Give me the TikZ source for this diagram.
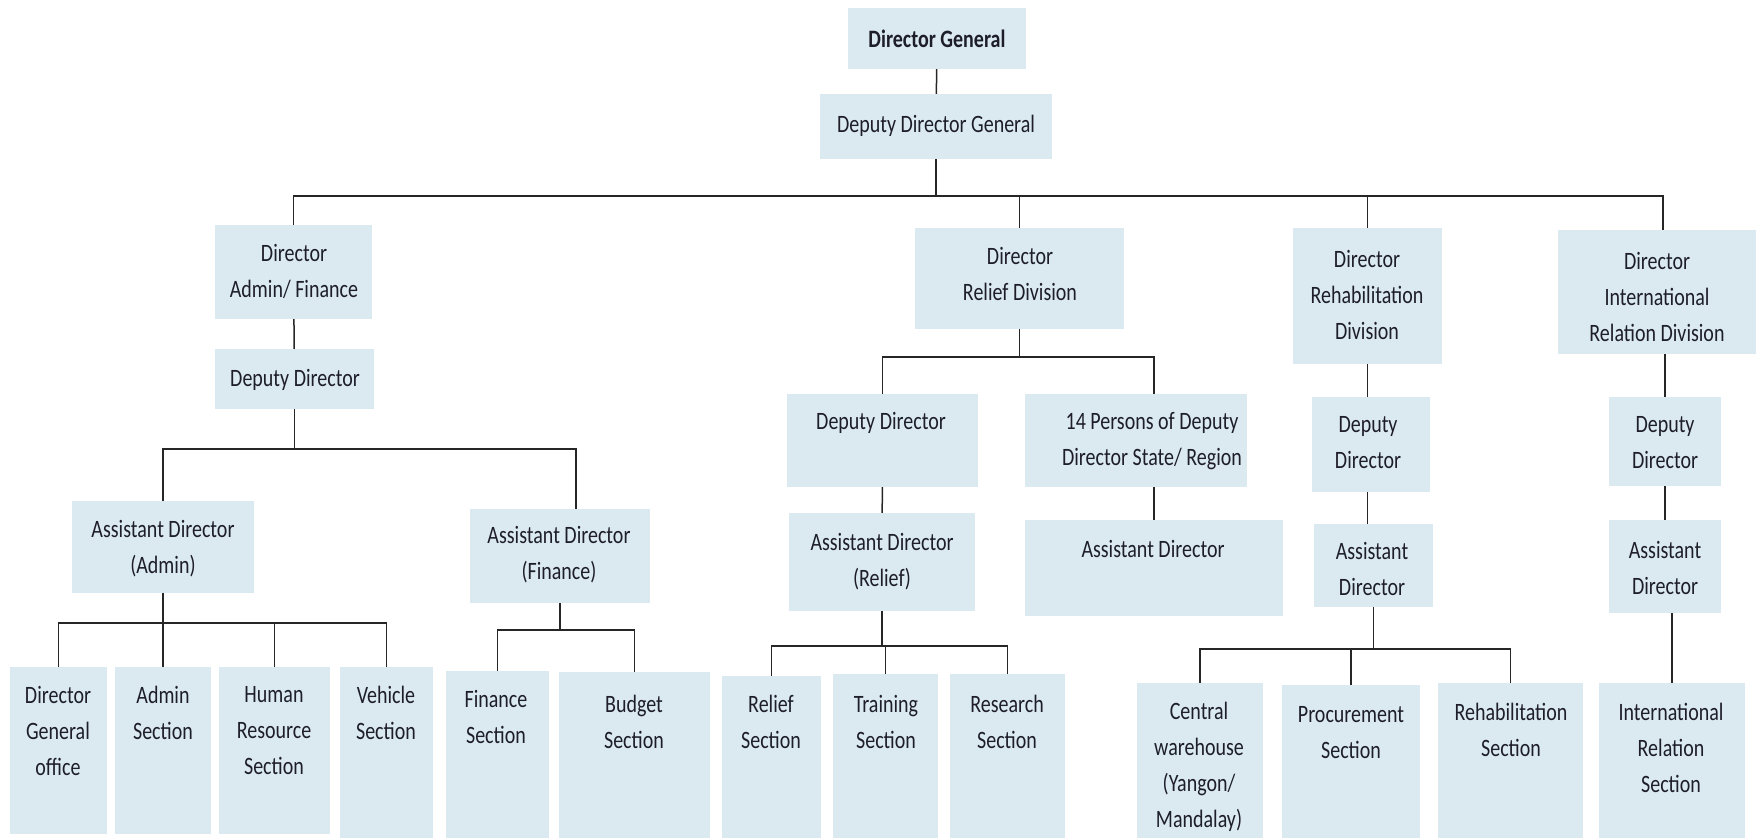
\documentclass[tikz,border=0pt]{standalone}
\usepackage{fontspec}
\setmainfont{Carlito}
\newfontfamily\orgfont[FakeStretch=0.8]{Carlito}
\usepackage{tikz}
\usetikzlibrary{calc}

\definecolor{boxblue}{RGB}{219,234,241}
\definecolor{txtgray}{RGB}{30,30,40}

\tikzset{
  unit/.style={fill=boxblue, inner sep=0pt},
  lbl/.style={align=center, inner sep=0pt, text=txtgray, font=\orgfont\fontsize{25}{36}\selectfont},
  link/.style={line width=1.5pt, black!85}
}

\begin{document}
\begin{tikzpicture}[x=1pt,y=-1pt]

\useasboundingbox (0,0) rectangle (1759,840);

	% top of the chart
	\node (DG)[unit, minimum width=178pt, minimum height=61pt] at (937,38.5) {};
	\node (DG-t)[lbl, font=\orgfont\fontsize{25}{36}\selectfont\bfseries] at (937,39) {Director General};
	\node (DDG)[unit, minimum width=232pt, minimum height=65pt] at (936,126.5) {};
	\node (DDG-t)[lbl] at (936,126) {Deputy Director General};

	% directors
	\node (DA)[unit, minimum width=157pt, minimum height=94pt] at (293.5,272) {};
	\node (DA-t)[lbl] at (294,271) {Director\\Admin/ Finance};
	\node (DR)[unit, minimum width=209pt, minimum height=101pt] at (1019.5,278.5) {};
	\node (DR-t)[lbl] at (1020,274) {Director\\Relief Division};
	\node (DRH)[unit, minimum width=149pt, minimum height=136pt] at (1367.5,296) {};
	\node (DRH-t)[lbl] at (1367,295) {Director\\Rehabilitation\\Division};
	\node (DIR)[unit, minimum width=198pt, minimum height=124pt] at (1657,292) {};
	\node (DIR-t)[lbl] at (1657,297) {Director\\International\\Relation Division};

	% deputy directors
	\node (DDA)[unit, minimum width=159pt, minimum height=60pt] at (294.5,379) {};
	\node (DDA-t)[lbl] at (295,380) {Deputy Director};
	\node (DDR)[unit, minimum width=191pt, minimum height=93pt] at (882.5,440.5) {};
	\node (DDR-t)[lbl] at (881,423) {Deputy Director};
	\node (FP)[unit, minimum width=222pt, minimum height=93pt] at (1136,440.5) {};
	\node (FP-t)[lbl] at (1152,441) {14 Persons of Deputy\\Director State/ Region};
	\node (DDRH)[unit, minimum width=118pt, minimum height=95pt] at (1371,444.5) {};
	\node (DDRH-t)[lbl] at (1368,443) {Deputy\\Director};
	\node (DDIR)[unit, minimum width=112pt, minimum height=89pt] at (1665,441.5) {};
	\node (DDIR-t)[lbl] at (1665,443) {Deputy\\Director};

	% assistant directors
	\node (ADA)[unit, minimum width=182pt, minimum height=92pt] at (163,547) {};
	\node (ADA-t)[lbl] at (163,549) {Assistant Director\\(Admin)};
	\node (ADF)[unit, minimum width=180pt, minimum height=94pt] at (560,556) {};
	\node (ADF-t)[lbl] at (559,555) {Assistant Director\\(Finance)};
	\node (ADR)[unit, minimum width=186pt, minimum height=98pt] at (882,562) {};
	\node (ADR-t)[lbl] at (882,562) {Assistant Director\\(Relief)};
	\node (AD14)[unit, minimum width=258pt, minimum height=96pt] at (1154,568) {};
	\node (AD14-t)[lbl] at (1153,549) {Assistant Director};
	\node (ADRH)[unit, minimum width=119pt, minimum height=83pt] at (1373.5,565.5) {};
	\node (ADRH-t)[lbl] at (1372,569) {Assistant\\Director};
	\node (ADIR)[unit, minimum width=112pt, minimum height=93pt] at (1665,566.5) {};
	\node (ADIR-t)[lbl] at (1665,568) {Assistant\\Director};

	% sections
	\node (DGO)[unit, minimum width=97pt, minimum height=167pt] at (58.5,750.5) {};
	\node (DGO-t)[lbl] at (58,731) {Director\\General\\office};
	\node (AS)[unit, minimum width=96pt, minimum height=167pt] at (163,750.5) {};
	\node (AS-t)[lbl] at (163,713) {Admin\\Section};
	\node (HR)[unit, minimum width=111pt, minimum height=167pt] at (274.5,750.5) {};
	\node (HR-t)[lbl] at (274,731) {Human\\Resource\\Section};
	\node (VS)[unit, minimum width=93pt, minimum height=171pt] at (386.5,752.5) {};
	\node (VS-t)[lbl] at (386,713) {Vehicle\\Section};
	\node (FS)[unit, minimum width=103pt, minimum height=167pt] at (497.5,754.5) {};
	\node (FS-t)[lbl] at (496,717) {Finance\\Section};
	\node (BS)[unit, minimum width=151pt, minimum height=166pt] at (634.5,755) {};
	\node (BS-t)[lbl] at (634,722) {Budget\\Section};
	\node (RS)[unit, minimum width=99pt, minimum height=162pt] at (771.5,757) {};
	\node (RS-t)[lbl] at (771,722) {Relief\\Section};
	\node (TS)[unit, minimum width=105pt, minimum height=164pt] at (885.5,756) {};
	\node (TS-t)[lbl] at (886,722) {Training\\Section};
	\node (RES)[unit, minimum width=115pt, minimum height=164pt] at (1007.5,756) {};
	\node (RES-t)[lbl] at (1007,722) {Research\\Section};
	\node (CW)[unit, minimum width=126pt, minimum height=155pt] at (1200,760.5) {};
	\node (CW-t)[lbl] at (1199,767) {Central\\warehouse\\(Yangon/\\Mandalay)};
	\node (PS)[unit, minimum width=138pt, minimum height=153pt] at (1351,761.5) {};
	\node (PS-t)[lbl] at (1351,733) {Procurement\\Section};
	\node (RHS)[unit, minimum width=145pt, minimum height=155pt] at (1510.5,760.5) {};
	\node (RHS-t)[lbl] at (1511,730) {Rehabilitation\\Section};
	\node (IRS)[unit, minimum width=146pt, minimum height=155pt] at (1672,760.5) {};
	\node (IRS-t)[lbl] at (1671,748) {International\\Relation\\Section};

	% lines
	\draw[link] (DG) -- (DDG);
	\draw[link] (DDG.south) -- ++(0,37) -| (DA.north);
	\draw[link] (DDG.south) -- ++(0,37) -| (DR.north);
	\draw[link] (DDG.south) -- ++(0,37) -| (DRH.north);
	\draw[link] (DDG.south) -- ++(0,37) -| ([xshift=6pt]DIR.north);

	\draw[link] (DA) -- (DDA);
	\draw[link] (DDA.south) -- ++(0,40) -| (ADA.north);
	\draw[link] (DDA.south) -- ++(0,40) -| ([xshift=16pt]ADF.north);
	\draw[link] (ADA.south) -- ++(0,30) -| (DGO.north);
	\draw[link] (ADA.south) -- ++(0,30) -| (AS.north);
	\draw[link] (ADA.south) -- ++(0,30) -| (HR.north);
	\draw[link] (ADA.south) -- ++(0,30) -| (VS.north);
	\draw[link] (ADF.south) -- ++(0,27) -| (FS.north);
	\draw[link] (ADF.south) -- ++(0,27) -| (BS.north);

	\draw[link] (DR.south) -- ++(0,28) -| (DDR.north);
	\draw[link] (DR.south) -- ++(0,28) -| (FP.north -| AD14.north);
	\draw[link] (DDR) -- (ADR);
	\draw[link] (FP.south -| AD14.north) -- (AD14.north);
	\draw[link] (ADR.south) -- ++(0,35) -| (RS.north);
	\draw[link] (ADR.south) -- ++(0,35) -| (TS.north);
	\draw[link] (ADR.south) -- ++(0,35) -| (RES.north);

	\draw[link] (DRH.south) -- (DRH.south |- DDRH.north);
	\draw[link] (DDRH.south -| DRH.south) -- (ADRH.north -| DRH.south);
	\draw[link] (ADRH.south) -- ++(0,42) -| (CW.north);
	\draw[link] (ADRH.south) -- ++(0,42) -| (PS.north);
	\draw[link] (ADRH.south) -- ++(0,42) -| (RHS.north);

	\draw[link] (DDIR.north |- DIR.south) -- (DDIR.north);
	\draw[link] (DDIR) -- (ADIR);
	\draw[link] (ADIR.south -| IRS.north) -- (IRS.north);

\end{tikzpicture}
\end{document}
